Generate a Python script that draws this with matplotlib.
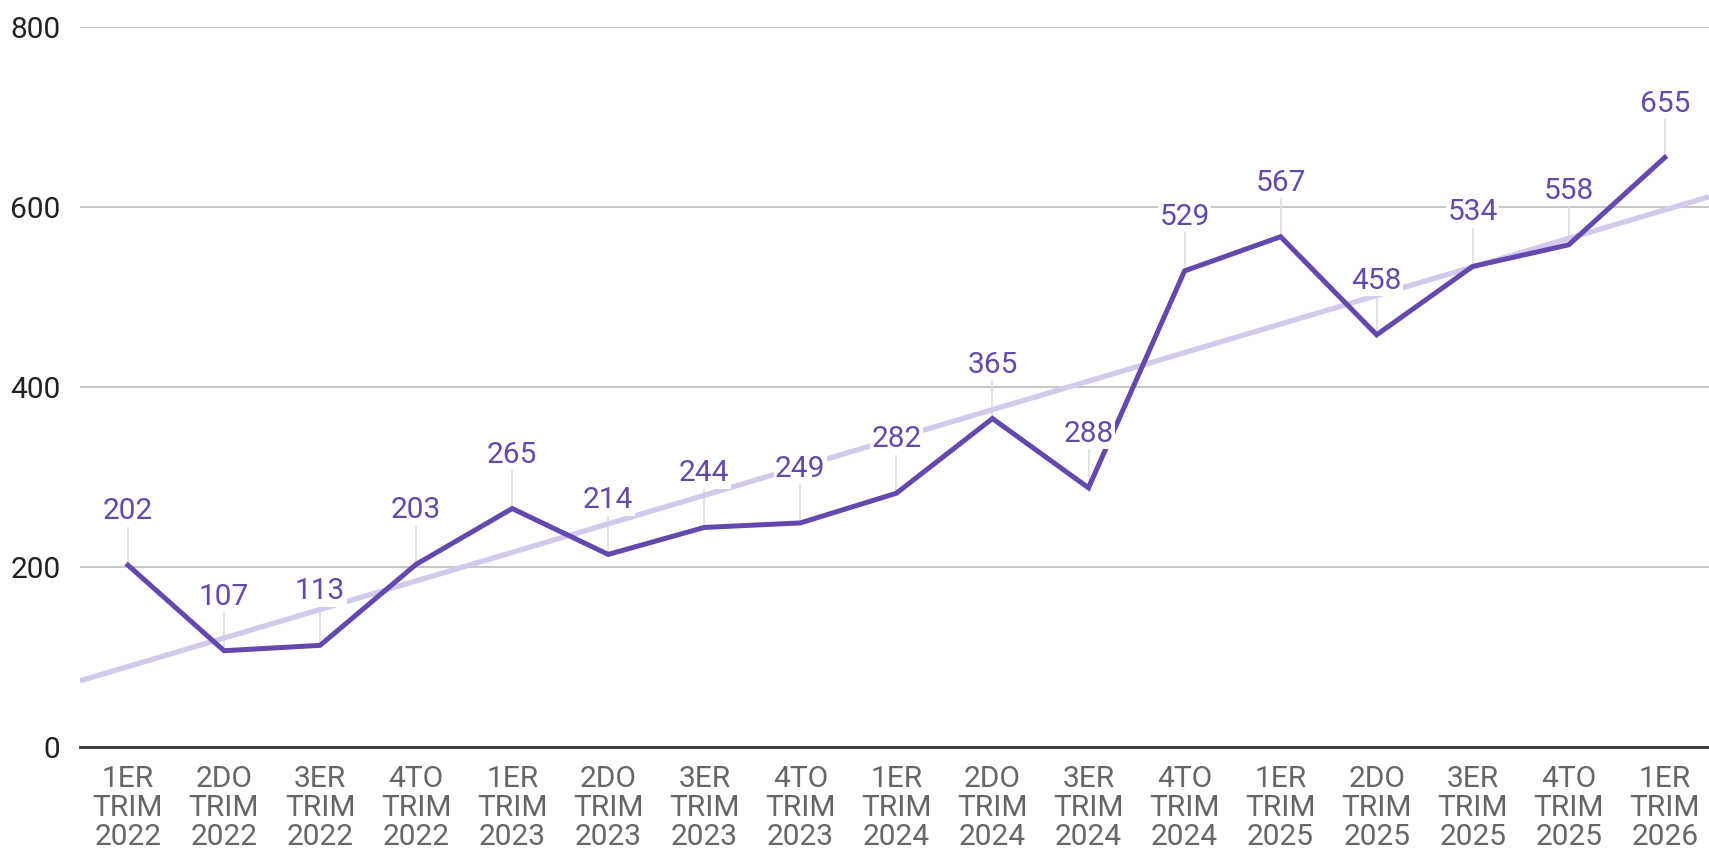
import matplotlib.pyplot as plt
import numpy as np

# Datos por trimestre
trimestres = ['1ER\nTRIM\n2022', '2DO\nTRIM\n2022', '3ER\nTRIM\n2022', '4TO\nTRIM\n2022',
              '1ER\nTRIM\n2023', '2DO\nTRIM\n2023', '3ER\nTRIM\n2023', '4TO\nTRIM\n2023',
              '1ER\nTRIM\n2024', '2DO\nTRIM\n2024', '3ER\nTRIM\n2024', '4TO\nTRIM\n2024',
              '1ER\nTRIM\n2025', '2DO\nTRIM\n2025', '3ER\nTRIM\n2025', '4TO\nTRIM\n2025',
              '1ER\nTRIM\n2026']
valores = [202, 107, 113, 203, 265, 214, 244, 249, 282, 365, 288, 529, 567, 458, 534, 558, 655]
y_ticks = [0, 200, 400, 600, 800]

plt.rcParams['font.family'] = ['Roboto', 'DejaVu Sans']

color_linea = '#6448ad'
color_tendencia = '#d3c9ea'

fig = plt.figure(figsize=(17.09, 8.52), dpi=100)
ax = fig.add_axes([0.0468, 0.1232, 0.9532, 0.8451])

x = np.arange(len(valores))

# Linea de tendencia (regresion lineal)
m, b = np.polyfit(x, valores, 1)
xt = np.array([-0.5, len(valores) - 0.54])
ax.plot(xt, m * xt + b, color=color_tendencia, lw=3.8, zorder=2, solid_capstyle='butt')

# Serie principal
ax.plot(x, valores, color=color_linea, lw=3.6, zorder=3, solid_joinstyle='miter')

# Etiquetas con lineas guia
for xi, v in zip(x, valores):
    ax.plot([xi, xi], [v, v + 45], color='#dddddd', lw=1.2, zorder=1)
    ax.text(xi, v + 60, str(v), ha='center', va='center', fontsize=21.5,
            color=color_linea, zorder=5,
            bbox=dict(boxstyle='square,pad=0.05', fc='white', ec='none'))

# Configuracion de ejes
ax.set_xlim(-0.5, len(valores) - 0.54)
ax.set_ylim(0, 800)
ax.set_yticks(y_ticks)
ax.set_yticklabels([str(t) for t in y_ticks], fontsize=21.5, color='#222222')
ax.set_xticks(x)
ax.set_xticklabels(trimestres, fontsize=21.5, color='#666666', linespacing=1.05)
ax.tick_params(axis='both', length=0)
ax.tick_params(axis='y', pad=14)
ax.tick_params(axis='x', pad=13)

for t in [200, 400, 600, 800]:
    ax.axhline(t, color='#c6c6c6', lw=1.4, zorder=0)
ax.axhline(0, color='#333333', lw=2, zorder=4, clip_on=False)

for s in ax.spines.values():
    s.set_visible(False)

fig.savefig('out.png', dpi=100)
